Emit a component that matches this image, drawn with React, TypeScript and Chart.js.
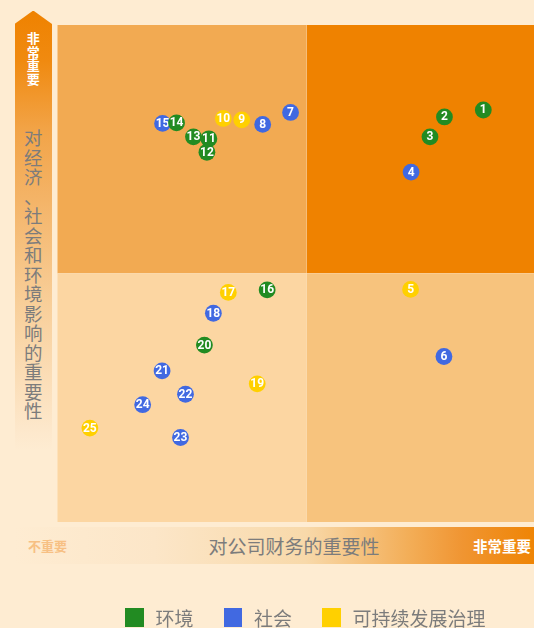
import React, { useEffect, useRef } from 'react';
import { Chart, registerables } from 'chart.js';

Chart.register(...registerables);

const seriesNames = ['环境', '社会', '可持续发展治理'];
const seriesColors = ['#228B22', '#4169E1', '#FFD000'];

const envIds = [1, 2, 3, 13, 11, 12, 14, 16, 20];
const envX = [8.55, 7.77, 7.48, 2.73, 3.04, 3.0, 2.39, 4.21, 2.95];
const envY = [8.29, 8.15, 7.75, 7.75, 7.71, 7.44, 8.03, 4.67, 3.56];

const socIds = [4, 6, 7, 8, 15, 18, 21, 22, 23, 24];
const socX = [7.1, 7.76, 4.68, 4.12, 2.11, 3.13, 2.1, 2.57, 2.47, 1.71];
const socY = [7.04, 3.33, 8.24, 8.0, 8.02, 4.2, 3.04, 2.57, 1.7, 2.36];

const govIds = [5, 9, 10, 17, 19, 25];
const govX = [7.09, 3.7, 3.33, 3.43, 4.01, 0.65];
const govY = [4.68, 8.09, 8.12, 4.62, 2.78, 1.89];

const axisMin = 0;
const axisMax = 10;
const axisMid = 5;

const yAxisTitle = '对经济、社会和环境影响的重要性';
const xAxisTitle = '对公司财务的重要性';
const highLabel = '非常重要';
const lowLabel = '不重要';

const BG = '#FEECD2';
const GRAY = '#7C7C7C';

const toPoints = (ids: number[], xs: number[], ys: number[]) =>
  ids.map((id, i) => ({ x: xs[i], y: ys[i], id }));

const quadrantPlugin = {
  id: 'quadrants',
  beforeDatasetsDraw(chart: any) {
    const { ctx, chartArea: a, scales } = chart;
    const mx = scales.x.getPixelForValue(axisMid);
    const my = scales.y.getPixelForValue(axisMid);
    ctx.save();
    ctx.fillStyle = '#F2AA52';
    ctx.fillRect(a.left, a.top, mx - a.left, my - a.top);
    ctx.fillStyle = '#EF8200';
    ctx.fillRect(mx, a.top, a.right - mx, my - a.top);
    ctx.fillStyle = '#FCD6A2';
    ctx.fillRect(a.left, my, mx - a.left, a.bottom - my);
    ctx.fillStyle = '#F7C37D';
    ctx.fillRect(mx, my, a.right - mx, a.bottom - my);
    ctx.fillStyle = 'rgba(255,236,205,0.35)';
    ctx.fillRect(mx - 0.5, a.top, 1, a.bottom - a.top);
    ctx.fillRect(a.left, my - 0.5, a.right - a.left, 1);
    ctx.restore();
  },
};

const labelPlugin = {
  id: 'pointLabels',
  afterDatasetDraw(chart: any, args: any) {
    const { ctx } = chart;
    const ds = chart.data.datasets[args.index];
    ctx.save();
    ctx.fillStyle = '#FFFFFF';
    ctx.font = 'bold 12px Roboto, "DejaVu Sans", sans-serif';
    ctx.textAlign = 'center';
    ctx.textBaseline = 'middle';
    args.meta.data.forEach((el: any, i: number) => {
      ctx.fillText(String(ds.data[i].id), el.x, el.y + 0.5);
    });
    ctx.restore();
  },
};

export default function App() {
  const canvasRef = useRef<HTMLCanvasElement | null>(null);

  useEffect(() => {
    document.body.style.margin = '0';
    document.body.style.background = BG;
    const canvas = canvasRef.current;
    if (!canvas) return;
    const allSeries = [
      toPoints(envIds, envX, envY),
      toPoints(socIds, socX, socY),
      toPoints(govIds, govX, govY),
    ];
    const chart = new Chart(canvas, {
      type: 'scatter',
      data: {
        datasets: allSeries.map((pts, i) => ({
          label: seriesNames[i],
          data: pts,
          backgroundColor: seriesColors[i],
          borderColor: seriesColors[i],
          borderWidth: 0,
          pointRadius: 8.4,
          pointHoverRadius: 8.4,
        })),
      },
      options: {
        responsive: false,
        animation: false,
        devicePixelRatio: 1,
        layout: { autoPadding: false, padding: { left: 57.5, top: 25, right: 4.5, bottom: 106 } },
        scales: {
          x: { type: 'linear', min: axisMin, max: axisMax, display: false },
          y: { type: 'linear', min: axisMin, max: axisMax, display: false },
        },
        plugins: {
          legend: { display: false },
          tooltip: { enabled: false },
        },
        events: [],
      },
      plugins: [quadrantPlugin, labelPlugin],
    } as any);
    return () => chart.destroy();
  }, []);

  const cjk = '"Noto Sans CJK SC", "Noto Sans", sans-serif';

  return (
    <div
      style={{
        position: 'fixed',
        left: 0,
        top: 0,
        width: 534,
        height: 628,
        overflow: 'hidden',
        background: BG,
        fontFamily: cjk,
      }}
    >
      {/* vertical arrow */}
      <div
        style={{
          position: 'absolute',
          left: 14.5,
          top: 10.5,
          width: 37.5,
          height: 440,
          clipPath: 'polygon(50% 0, 100% 13.5px, 100% 100%, 0 100%, 0 13.5px)',
          background:
            'linear-gradient(to bottom, #EF8200 0px, #F08A10 50px, #F2A448 120px, #F4B468 190px, #F8CE98 290px, #FDE8CC 420px, #FEECD2 440px)',
        }}
      />
      <div
        style={{
          position: 'absolute',
          left: 14.5,
          top: 31,
          width: 37.5,
          display: 'flex',
          flexDirection: 'column',
          alignItems: 'center',
          color: '#FFFFFF',
          fontWeight: 'bold',
          fontSize: 13,
          lineHeight: '13.5px',
        }}
      >
        {highLabel.split('').map((c, i) => (
          <span key={i}>{c}</span>
        ))}
      </div>
      <div
        style={{
          position: 'absolute',
          left: 14.5,
          top: 128,
          width: 37.5,
          display: 'flex',
          flexDirection: 'column',
          alignItems: 'center',
          color: GRAY,
          fontSize: 18.5,
          lineHeight: '19.5px',
        }}
      >
        {yAxisTitle.split('').map((c, i) => (
          <span key={i} style={{ width: 18.5, textAlign: 'left' }}>{c}</span>
        ))}
      </div>

      {/* horizontal bar */}
      <div
        style={{
          position: 'absolute',
          left: 14,
          top: 527,
          width: 540,
          height: 37,
          background:
            'linear-gradient(to right, #FEECD2 0%, #FCE6C8 26%, #F8D9AA 54%, #F3AE58 73%, #F09532 83%, #EF8506 96%, #EF8200 100%)',
        }}
      />
      <div
        style={{
          position: 'absolute',
          left: 28,
          top: 527,
          height: 37,
          lineHeight: '37px',
          color: '#F7C084',
          fontWeight: 'bold',
          fontSize: 13,
        }}
      >
        {lowLabel}
      </div>
      <div
        style={{
          position: 'absolute',
          left: 144,
          width: 300,
          top: 527,
          height: 37,
          lineHeight: '37px',
          textAlign: 'center',
          color: GRAY,
          fontSize: 19,
        }}
      >
        {xAxisTitle}
      </div>
      <div
        style={{
          position: 'absolute',
          left: 473,
          top: 527,
          height: 37,
          lineHeight: '37px',
          color: '#FFFFFF',
          fontWeight: 'bold',
          fontSize: 14.5,
          whiteSpace: 'nowrap',
        }}
      >
        {highLabel}
      </div>

      <canvas
        ref={canvasRef}
        width={560}
        height={628}
        style={{ position: 'absolute', left: 0, top: 0, width: 560, height: 628 }}
      />

      {/* legend */}
      <div
        style={{
          position: 'absolute',
          left: 125,
          top: 603,
          height: 29,
          display: 'flex',
          alignItems: 'center',
          whiteSpace: 'nowrap',
        }}
      >
        {seriesNames.map((name, i) => (
          <div key={name} style={{ display: 'flex', alignItems: 'center', marginRight: 30 }}>
            <span
              style={{
                display: 'inline-block',
                width: 18.5,
                height: 19,
                background: seriesColors[i],
                marginRight: 12,
              }}
            />
            <span style={{ color: GRAY, fontSize: 19, lineHeight: '29px' }}>{name}</span>
          </div>
        ))}
      </div>
    </div>
  );
}
